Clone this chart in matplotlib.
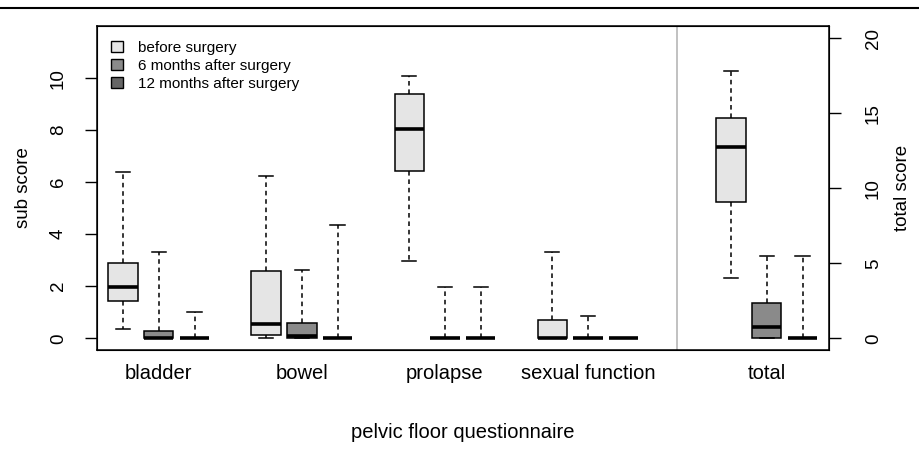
import matplotlib
matplotlib.use('Agg')
import matplotlib.pyplot as plt
from matplotlib.lines import Line2D
from matplotlib.patches import Patch

plt.rcParams['font.family'] = ['Liberation Sans', 'DejaVu Sans']

# sub scores: bladder, bowel, prolapse, sexual function
subscales = ['bladder', 'bowel', 'prolapse', 'sexual function']
series = ['before surgery', '6 months after surgery', '12 months after surgery']
colors = ['#e5e5e5', '#8a8a8a', '#666666']

# each row: (whislo, q1, med, q3, whishi) for the 4 subscales
before_sub = [(0.35, 1.45, 1.96, 2.88, 6.4),
              (0.0, 0.13, 0.55, 2.6, 6.24),
              (2.97, 6.41, 8.06, 9.4, 10.09),
              (0.0, 0.0, 0.0, 0.7, 3.31)]
m6_sub = [(0.0, 0.0, 0.0, 0.28, 3.3),
          (0.0, 0.0, 0.07, 0.58, 2.63),
          (0.0, 0.0, 0.0, 0.0, 1.96),
          (0.0, 0.0, 0.0, 0.0, 0.86)]
m12_sub = [(0.0, 0.0, 0.0, 0.0, 1.02),
           (0.0, 0.0, 0.0, 0.0, 4.36),
           (0.0, 0.0, 0.0, 0.0, 1.96),
           (0.0, 0.0, 0.0, 0.0, 0.0)]

# total score (right axis)
before_tot = (4.0, 9.1, 12.77, 14.67, 17.84)
m6_tot = (0.0, 0.0, 0.73, 2.37, 5.5)
m12_tot = (0.0, 0.0, 0.0, 0.0, 5.5)


def stats(t):
    return dict(whislo=t[0], q1=t[1], med=t[2], q3=t[3], whishi=t[4], fliers=[])


def draw(ax, data, pos, col):
    bp = ax.bxp([stats(t) for t in data], positions=pos, widths=0.82,
                patch_artist=True, showfliers=False,
                boxprops=dict(facecolor=col, edgecolor='black', linewidth=1.1),
                medianprops=dict(color='black', linewidth=2.6, solid_capstyle='butt'),
                whiskerprops=dict(color='black', linestyle=(0, (3, 2.5)), linewidth=1.1),
                capprops=dict(color='black', linewidth=1.1),
                capwidths=0.4)
    return bp


fig = plt.figure(figsize=(9.19, 4.55), dpi=100)
ax = fig.add_axes([0.1055, 0.2308, 0.797, 0.712])

groups = [1, 5, 9, 13]
for k, (data, col) in enumerate(zip([before_sub, m6_sub, m12_sub], colors)):
    draw(ax, data, [g + k for g in groups], col)

ax.set_xlim(0.27, 20.75)
ax.set_ylim(-0.45, 12.0)
ax.set_yticks([0, 2, 4, 6, 8, 10])
ax.set_yticklabels(['0', '2', '4', '6', '8', '10'], rotation=90, va='center')
ax.tick_params(axis='y', labelsize=13.5, length=8.5, width=1, pad=13)
ax.set_ylabel('sub score', fontsize=13.5, va='center')
ax.yaxis.set_label_coords(-0.1, 0.5)
ax.set_xticks([])
for s in ax.spines.values():
    s.set_linewidth(1.1)

# total score on the right axis
ax2 = ax.twinx()
for k, (t, col) in enumerate(zip([before_tot, m6_tot, m12_tot], colors)):
    draw(ax2, [t], [18 + k], col)
ax2.set_ylim(-0.78, 20.82)
ax2.set_xlim(0.27, 20.75)
ax2.set_yticks([0, 5, 10, 15, 20])
ax2.set_yticklabels(['0', '5', '10', '15', '20'], rotation=90, va='center')
ax2.tick_params(axis='y', labelsize=13.5, length=8.5, width=1, pad=17)
ax2.set_ylabel('total score', fontsize=13.5, va='center')
ax2.yaxis.set_label_coords(1.1, 0.5)
ax2.set_xticks([])

ax.axvline(16.5, color='#b0b0b0', linewidth=1.1)

# category labels under the axis
for g, name in zip(groups + [18], subscales + ['total']):
    ax.text(g + 1, -1.35, name, ha='center', va='center', fontsize=14.5)
ax.text(0.5, -0.255, 'pelvic floor questionnaire', transform=ax.transAxes,
        ha='center', va='center', fontsize=14.5)

handles = [Patch(facecolor=c, edgecolor='black', linewidth=1) for c in colors]
ax.legend(handles, series, loc='upper left', frameon=False, fontsize=11,
          handlelength=0.75, handleheight=0.75, handletextpad=1.0,
          labelspacing=0.28, borderaxespad=0.5, borderpad=0.45)

fig.add_artist(Line2D([0, 1], [1 - 8 / 455, 1 - 8 / 455], color='black', linewidth=1.5))

fig.savefig('out.png', dpi=100)
